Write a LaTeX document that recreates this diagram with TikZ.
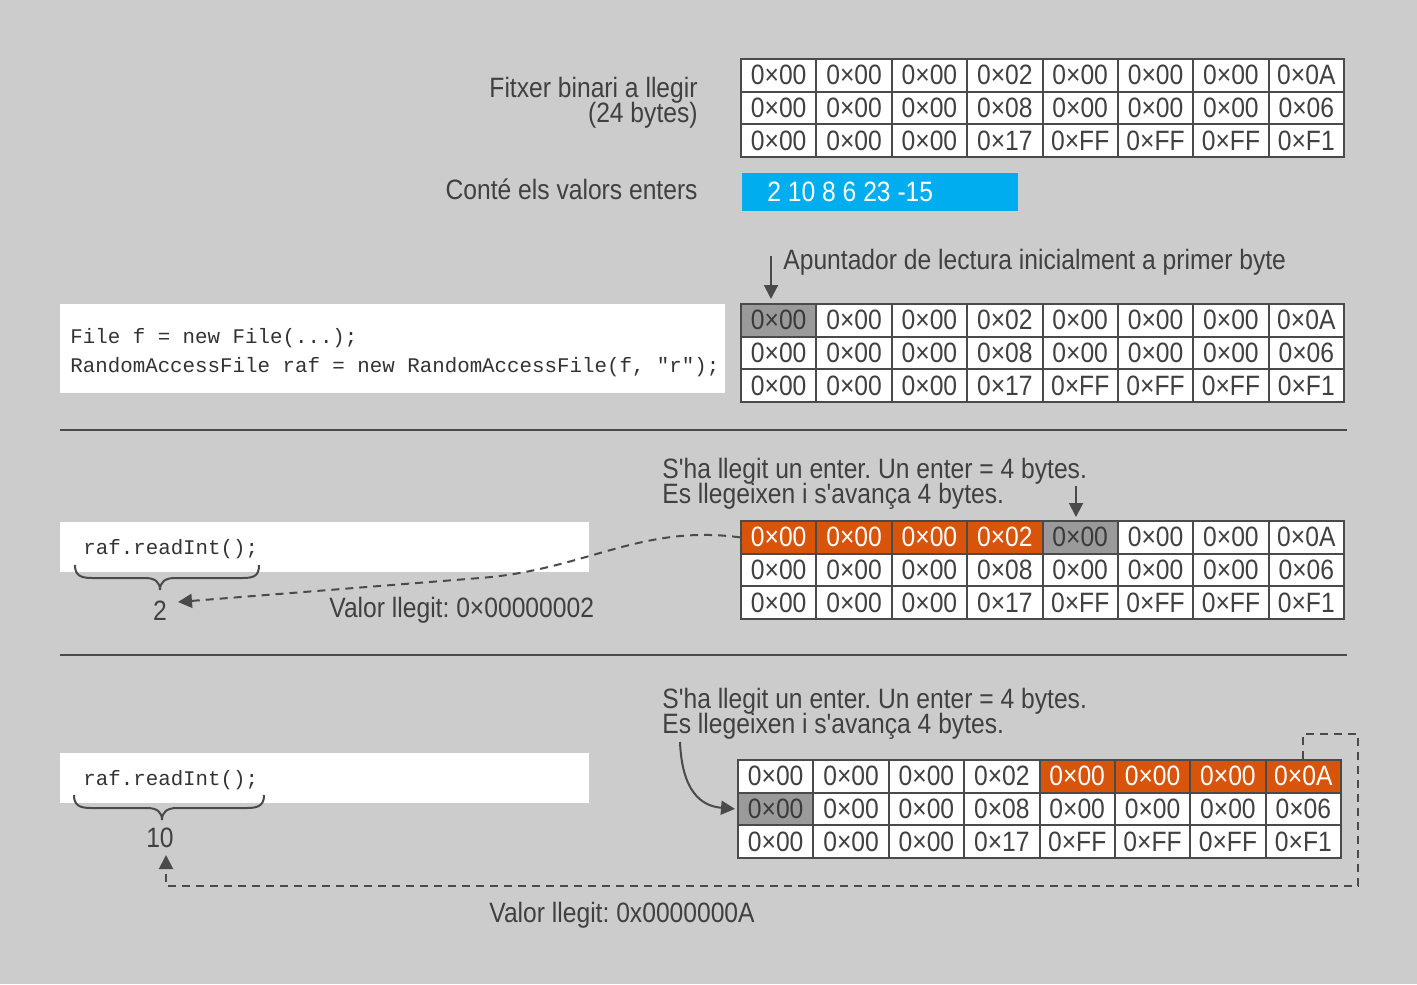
\documentclass[tikz,border=0pt]{standalone}
\usepackage{fontspec}
\setmainfont{Liberation Sans}[FakeStretch=0.88]
\newfontfamily\plainfam{Liberation Sans}[FakeStretch=0.88]
\setmonofont{Liberation Mono}
\usetikzlibrary{arrows.meta}
\frenchspacing
\definecolor{bg}{HTML}{CCCCCC}
\definecolor{ink}{HTML}{404040}
\definecolor{linec}{HTML}{4A4A4A}
\definecolor{orng}{HTML}{D9540B}
\definecolor{blu}{HTML}{00AEEF}
\definecolor{gcell}{HTML}{9A9A9A}
\newcommand\lblfont{\plainfam\fontsize{14}{16}\selectfont}
\newcommand\codefont{\ttfamily\fontsize{10.4}{12}\selectfont}
\newcommand\bytetable[3]{%
  \foreach \v [count=\c] in {00,00,00,02,00,00,00,0A}
    \node[cell, #1-1-\c/.try] (#1-1-\c) at ({#2+(\c-0.5)*75.375},{#3+0.5*32.7}) {0×\v};
  \foreach \v [count=\c] in {00,00,00,08,00,00,00,06}
    \node[cell, #1-2-\c/.try] (#1-2-\c) at ({#2+(\c-0.5)*75.375},{#3+1.5*32.7}) {0×\v};
  \foreach \v [count=\c] in {00,00,00,17,FF,FF,FF,F1}
    \node[cell, #1-3-\c/.try] (#1-3-\c) at ({#2+(\c-0.5)*75.375},{#3+2.5*32.7}) {0×\v};
}
\tikzset{
  cell/.style={draw=linec, line width=1pt, fill=white, text=ink, font=\lblfont,
    minimum width=37.69pt, minimum height=16.35pt, inner sep=0pt},
  graycell/.style={fill=gcell, text=ink!90!black},
  orcell/.style={fill=orng, text=white},
  lbl/.style={font=\lblfont, text=ink, inner sep=0pt},
  code/.style={font=\codefont, text=ink!80!black, inner sep=0pt},
  codebox/.style={fill=white, draw=none},
  arr/.style={draw=linec, line width=1pt, -{Triangle[width=7pt,length=7pt]}},
  dasharr/.style={draw=linec, line width=1pt, dash pattern=on 4pt off 3pt, -{Triangle[width=7pt,length=7pt]}},
  sepline/.style={draw=linec, line width=1pt},
  bracel/.style={draw=linec, line width=1pt},
  t2-1-1/.style=graycell,
  t3-1-1/.style=orcell, t3-1-2/.style=orcell, t3-1-3/.style=orcell, t3-1-4/.style=orcell,
  t3-1-5/.style=graycell,
  t4-1-5/.style=orcell, t4-1-6/.style=orcell, t4-1-7/.style=orcell, t4-1-8/.style=orcell,
  t4-2-1/.style=graycell,
}
\begin{document}
\begin{tikzpicture}[x=0.5pt,y=-0.5pt]
\fill[bg] (0,0) rectangle (1417,984);
\useasboundingbox (0,0) rectangle (1417,984);

% --- top: file description
\node[lbl, anchor=base east] (fitxer) at (698,98) {Fitxer binari a llegir};
\node[lbl, anchor=base east] (bytes24) at (698,123) {(24 bytes)};
\bytetable{t1}{741}{59}
\node[lbl, anchor=base east] (conte) at (698,199) {Conté els valors enters};
\fill[blu] (742,173) rectangle (1018,211);
\node[lbl, anchor=base west, text=white] (valors) at (767,202) {2 10 8 6 23 -15};

% --- section 1
\node[lbl, anchor=base west] (apunt) at (783,270) {Apuntador de lectura inicialment a primer byte};
\fill[codebox] (60,304) rectangle (725,393);
\node[code, anchor=base west] (code1) at (70,343) {File f = new File(...);};
\node[code, anchor=base west] (code2) at (70,372) {RandomAccessFile raf = new RandomAccessFile(f, "r");};
\bytetable{t2}{741}{304}
\coordinate (apstart) at (771,256);
\draw[arr, shorten >=2pt] (apstart) -- (apstart |- t2-1-1.north);

\draw[sepline] (60,430) -- (1347,430);

% --- section 2
\node[lbl, anchor=base west] (s2a) at (662,478) {S'ha llegit un enter. Un enter = 4 bytes.};
\node[lbl, anchor=base west] (s2b) at (662,503) {Es llegeixen i s'avança 4 bytes.};
\fill[codebox] (60,522) rectangle (589,572);
\node[code, anchor=base west] (code3) at (83,554) {raf.readInt();};
\bytetable{t3}{741}{521}
\coordinate (s2start) at (1076,486);
\draw[arr, shorten >=1.5pt] (s2start) -- (s2start |- t3-1-5.north);
\draw[bracel] (75,565) .. controls (75,575) and (80,578) .. (92,578) -- (145,578)
  .. controls (155,578) and (160,582) .. (160,590)
  .. controls (160,582) and (165,578) .. (175,578) -- (243,578)
  .. controls (255,578) and (259,575) .. (259,565);
\node[lbl, anchor=base] (num2) at (160,620) {2};
\coordinate (tip2) at (178,602);
\draw[dasharr] (t3-1-1.west) .. controls (640,524) and (585,570) .. (480,578) -- (tip2);
\node[lbl, anchor=base west] (val2) at (329,617) {Valor llegit: 0×00000002};

\draw[sepline] (60,655) -- (1347,655);

% --- section 3
\node[lbl, anchor=base west] (s3a) at (662,708) {S'ha llegit un enter. Un enter = 4 bytes.};
\node[lbl, anchor=base west] (s3b) at (662,733) {Es llegeixen i s'avança 4 bytes.};
\fill[codebox] (60,753) rectangle (589,803);
\node[code, anchor=base west] (code4) at (83,785) {raf.readInt();};
\bytetable{t4}{738}{760}
\coordinate (s3start) at (680,742);
\draw[arr, shorten >=1pt] (s3start) .. controls (682,790) and (700,806) .. (t4-2-1.west);
\draw[bracel] (74,795) .. controls (74,805) and (79,808) .. (91,808) -- (147,808)
  .. controls (157,808) and (162,812) .. (162,820)
  .. controls (162,812) and (167,808) .. (177,808) -- (247,808)
  .. controls (259,808) and (264,805) .. (264,795);
\node[lbl, anchor=base] (num10) at (160,847) {10};
\coordinate (corner1) at (1358,734);
\coordinate (corner2) at (166,886);
\coordinate (tip10) at (166,855);
\draw[dasharr] (t4-1-8.north) |- (corner1) |- (corner2) -- (tip10);
\node[lbl, anchor=base west] (val10) at (489,922) {Valor llegit: 0x0000000A};
\end{tikzpicture}
\end{document}
